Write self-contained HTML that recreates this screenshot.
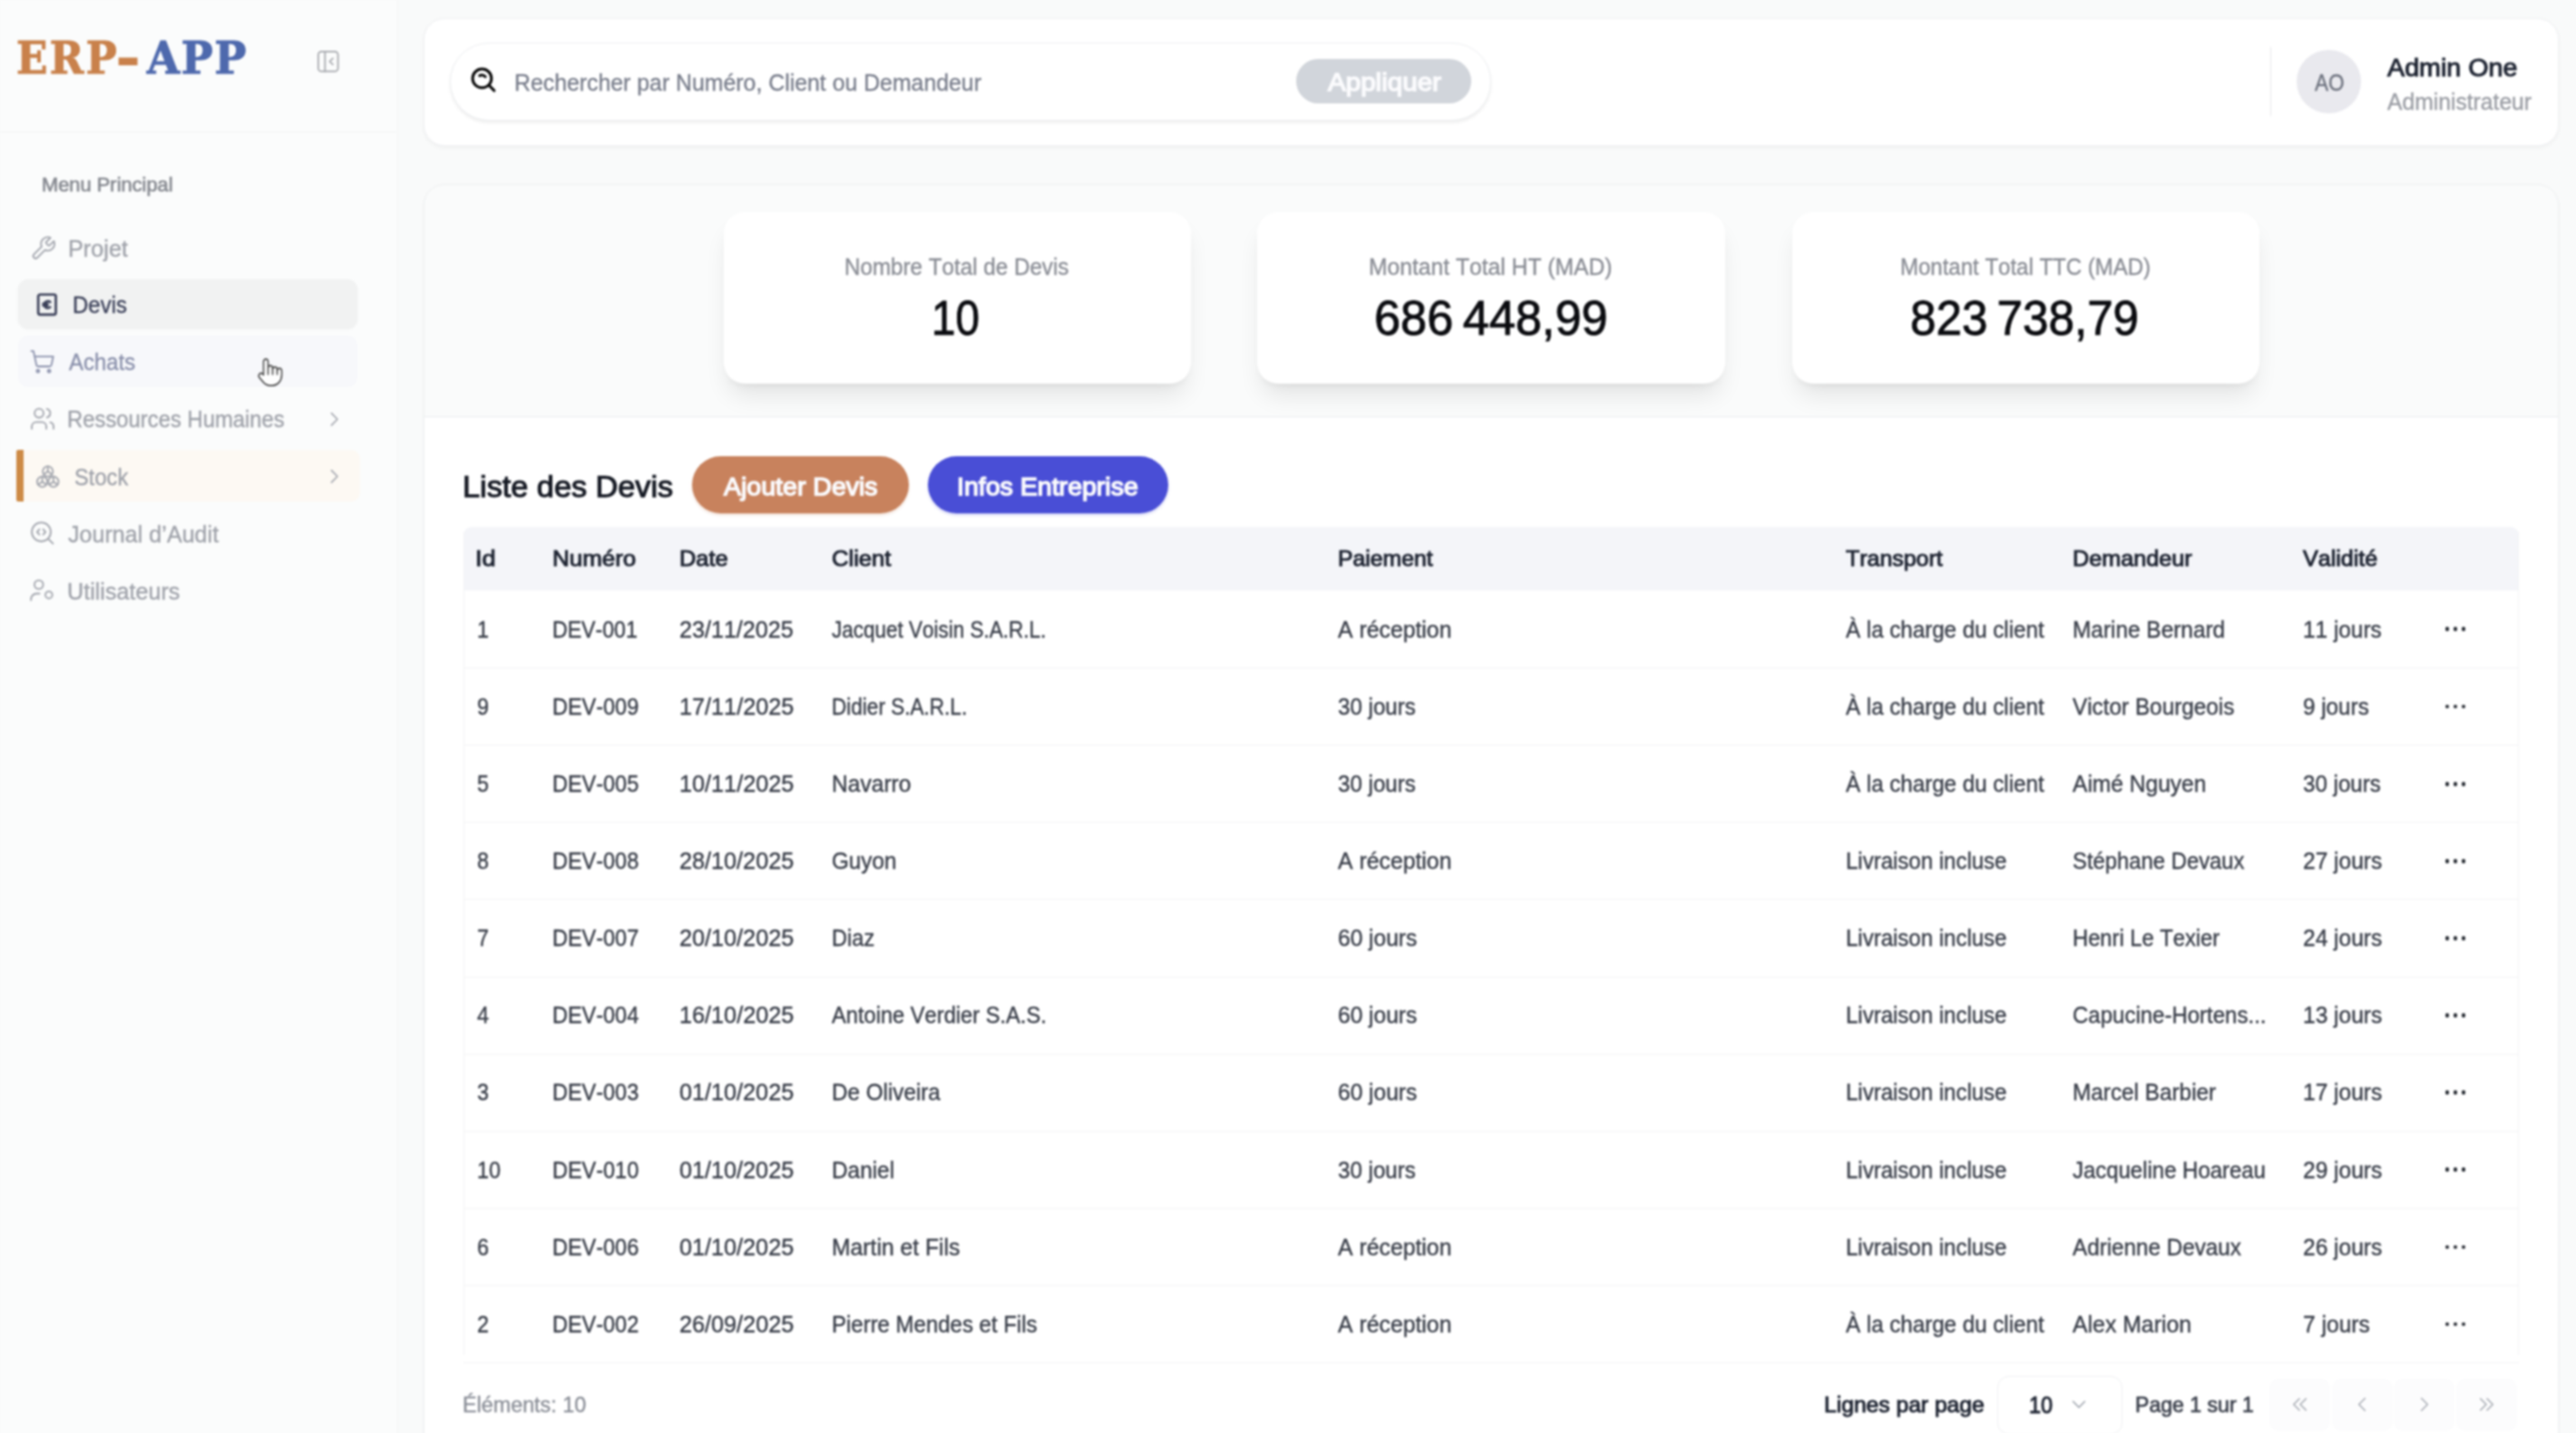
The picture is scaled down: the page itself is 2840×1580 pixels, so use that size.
<!DOCTYPE html>
<html lang="fr">
<head>
<meta charset="utf-8">
<title>ERP-APP – Devis</title>
<meta name="viewport" content="width=2840">
<style>
*{box-sizing:border-box;margin:0;padding:0}
html,body{width:2840px;height:1580px;overflow:hidden}
body{position:relative;background:#f9fafa;font-family:"Liberation Sans",Arial,sans-serif;color:#374151;font-kerning:none;-webkit-font-smoothing:antialiased}
.t{position:absolute;display:block;white-space:pre;line-height:1;font-weight:400;-webkit-text-stroke:.35px;transform-origin:0 0}
.sb{-webkit-text-stroke:1px}
.ic{position:absolute;display:block;overflow:visible}
button{font:inherit;border:0;background:none;color:inherit;display:block}
div,header,main,section,aside,button,nav,a,h2{position:absolute}
nav,.brand,.nav-item{left:0;top:0;width:0;height:0}

.app{left:0;top:0;width:2840px;height:1720px;background:#f9fafa;filter:blur(.8px)}

/* sidebar */
.sidebar{left:0;top:0;width:438.8px;height:1720px;background:#fbfcfc;border-right:1.6px solid #f3f5f5}
.brand::after{content:"";position:absolute;left:0;top:144.6px;width:437px;height:1.6px;background:#f2f4f4}
.logo{font-family:"DejaVu Serif Condensed","DejaVu Serif","Liberation Serif",serif;font-weight:700;-webkit-text-stroke:1px;white-space:pre;line-height:1}
.logo span{display:inline-block;position:relative;transform-origin:0 0}
.logo .dash{-webkit-text-stroke:2.2px}
.l1{color:#c9814b}
.l2{color:#4e69ad}
.menu-title{color:#878a91;-webkit-text-stroke:.7px}
.nav-label{color:#9fa2aa;-webkit-text-stroke:.35px}
.nav-bg{border-radius:11px}
.active .nav-bg{background:#f1f2f2;box-shadow:0 1px 2.5px rgba(0,0,0,.05)}
.active .nav-label{color:#3b4059}
.hover .nav-bg{background:#f7f8fb}
.hover .nav-label{color:#8a90ab}
.accent .nav-bg{background:#fdf9f3;border-left:8px solid #cd8a45;border-radius:2px 10px 10px 2px}

/* top bar */
.topbar{background:#fff;border:1.4px solid #f0f1f3;border-radius:23px;box-shadow:0 2px 5px rgba(0,0,0,.045)}
.topbar>*{margin:-1.4px 0 0 -1.4px}
.search{background:#fff;border:1.4px solid #eef0f2;border-radius:43px;box-shadow:0 2.5px 3.5px rgba(0,0,0,.065)}
.search>*{margin:-1.4px 0 0 -1.4px}
.ph{color:#787d8b;-webkit-text-stroke:.35px}
.apply{background:#d1d5db;border-radius:26px}
.bt{color:#fbfbfd;-webkit-text-stroke:1.5px}
.vsep{background:#e6e8eb}
.avatar{background:#e9e9ee;border-radius:50%}
.av-t{color:#6e737f}
.u-name{color:#1f2533}
.u-role{color:#9a9da4}

/* main card */
.maincard{background:#fff;border-radius:23px;box-shadow:0 2px 5px rgba(0,0,0,.03)}
.maincard::after{content:"";position:absolute;inset:0;border:1.8px solid #eef0f1;border-radius:23px;pointer-events:none}
.stats{background:#fafbfb;border-bottom:1.8px solid #e9ebee;border-radius:23px 23px 0 0}
.stat{background:#fff;border-radius:23px;box-shadow:0 18px 27px -5px rgba(0,0,0,.09),0 7px 11px -7px rgba(0,0,0,.09)}
.st-l{color:#8a8d95}
.st-v{color:#0b0c10;-webkit-text-stroke:.9px}
.h{color:#161a24;font-weight:400;-webkit-text-stroke:1.1px}
.btn{border-radius:33px}
.b-add{background:#c8825d;box-shadow:0 2px 3px rgba(200,130,93,.25)}
.b-info{background:#494ed6;box-shadow:0 2px 3px rgba(73,78,214,.25)}

.tablewrap{border-radius:9px 9px 0 0;overflow:hidden}
.tablewrap::after{content:"";position:absolute;inset:0 0 10px 0;border:1.4px solid #f2f3f5;border-top:0;border-bottom:0;pointer-events:none}
table.grid{border-collapse:collapse;table-layout:fixed;width:100%;position:absolute;left:0;top:0}
.grid th,.grid td{text-align:left;white-space:nowrap;overflow:hidden;vertical-align:middle;line-height:30px;padding:0}
.grid th{height:70.9px;background:#f4f5f9;color:#1f2533;font-size:24.6px;font-weight:400;-webkit-text-stroke:1px;padding-bottom:2.2px}
.grid td{height:85.12px;color:#393e49;font-size:25.8px;border-bottom:1.6px solid #f2f3f5;-webkit-text-stroke:.4px;padding-bottom:2.6px}
.c{display:inline-block;transform-origin:0 50%;vertical-align:middle}
.dots{display:block;position:relative;left:14.6px;top:2px;width:24px;height:6px}
.dots i{position:absolute;top:0;width:4.6px;height:4.6px;border-radius:50%;background:#23272f}
.dots i:nth-child(1){left:0}
.dots i:nth-child(2){left:9px}
.dots i:nth-child(3){left:18px}

.f-count{color:#8a8e97}
.f-lab{color:#1f2533}
.f-sel{color:#1f2533}
.f-page{color:#3a3f4b;-webkit-text-stroke:.7px}
.select{background:#fff;border:1.6px solid #eff0f2;border-radius:13px}
.select>*{margin:-1.4px 0 0 -1.4px}
.pg{background:#fcfcfd;border-radius:11px}
.cursor{position:absolute;display:block;overflow:visible}

</style>
</head>
<body>
<div class="app">
<aside class="sidebar"><div class="brand">
<div class="logo" style="left:0;top:40.38px;font-size:49px"><span class="l1" style="left:18.39px;letter-spacing:2.4px;transform:scaleX(1.0242)">ERP</span><span class="l1 dash" style="left:18.87px;top:-0.6px;transform:scaleX(1.3266)">-</span> <span class="l2" style="left:18.04px;letter-spacing:1.6px;transform:scaleX(1.0541)">APP</span></div>
<svg class="ic " style="left:347.95px;top:54.45px" viewBox="0 0 24 24" width="27.5" height="27.5" fill="none" stroke="#a4a6ab" stroke-width="1.5" stroke-linecap="round" stroke-linejoin="round"><rect x="2.5" y="2.5" width="19" height="19" rx="3"/><path d="M9 2.5v19"/><path d="m16.5 9-3 3 3 3"/></svg>
</div>
<div class="t menu-title" style="left:46.41px;top:192.67px;font-size:22.6px;transform:scaleX(0.9677)">Menu Principal</div>
<nav>
<a class="nav-item "><svg class="ic " style="left:32.65px;top:258.65px" viewBox="0 0 24 24" width="29.5" height="29.5" fill="none" stroke="#a2a5ad" stroke-width="1.5" stroke-linecap="round" stroke-linejoin="round"><path d="M14.7 6.3a1 1 0 0 0 0 1.4l1.6 1.6a1 1 0 0 0 1.4 0l3.77-3.77a6 6 0 0 1-7.94 7.94l-6.91 6.91a2.12 2.12 0 0 1-3-3l6.91-6.91a6 6 0 0 1 7.94-7.94l-3.76 3.76z"/></svg><span class="t nav-label" style="left:74.53px;top:260.88px;font-size:26.6px;transform:scaleX(0.9507)">Projet</span></a>
<a class="nav-item active"><div class="nav-bg" style="left:19.6px;top:308.2px;width:374.4px;height:54px"></div><svg class="ic " style="left:37.53px;top:322.13px" viewBox="0 0 24 24" width="27.73" height="27.73" fill="none" stroke="#3b4059" stroke-width="2.3" stroke-linecap="round" stroke-linejoin="round"><rect x="3.6" y="2.4" width="16.8" height="19.2" rx="1.8"/><path d="M15 9.6a3.3 3.3 0 1 0 0 4.8"/><path d="M8.4 11.1h4"/><path d="M8.4 12.9h4"/></svg><span class="t nav-label sb" style="left:79.83px;top:323.48px;font-size:26.6px;transform:scaleX(0.9026)">Devis</span></a>
<a class="nav-item hover"><div class="nav-bg" style="left:19.6px;top:370.4px;width:374.4px;height:56.4px"></div><svg class="ic " style="left:32.05px;top:384.05px" viewBox="0 0 24 24" width="29.5" height="29.5" fill="none" stroke="#8a90ab" stroke-width="1.5" stroke-linecap="round" stroke-linejoin="round"><circle cx="8" cy="20.5" r="1.2"/><circle cx="18" cy="20.5" r="1.2"/><path d="M2 2.5h2l2.6 12.2a2 2 0 0 0 2 1.6h9.6a2 2 0 0 0 1.95-1.57L21.7 7.4H5.1"/></svg><span class="t nav-label" style="left:75.65px;top:386.28px;font-size:26.6px;transform:scaleX(0.9015)">Achats</span></a>
<a class="nav-item "><svg class="ic " style="left:32.05px;top:447.15px" viewBox="0 0 24 24" width="29.5" height="29.5" fill="none" stroke="#a2a5ad" stroke-width="1.5" stroke-linecap="round" stroke-linejoin="round"><path d="M15.5 21v-2a4 4 0 0 0-4-4h-5a4 4 0 0 0-4 4v2"/><circle cx="9" cy="7" r="4"/><path d="M22 21v-2a4 4 0 0 0-3-3.87"/><path d="M16 3.13a4 4 0 0 1 0 7.75"/></svg><span class="t nav-label" style="left:74.04px;top:449.38px;font-size:26.6px;transform:scaleX(0.8962)">Ressources Humaines</span><svg class="ic " style="left:356.55px;top:450.85px" viewBox="0 0 24 24" width="22.5" height="22.5" fill="none" stroke="#a2a5ad" stroke-width="1.7" stroke-linecap="round" stroke-linejoin="round"><path d="m9 5 7 7-7 7"/></svg></a>
<a class="nav-item accent"><div class="nav-bg" style="left:18.2px;top:496.2px;width:379.2px;height:56.4px"></div><svg class="ic " style="left:38.45px;top:510.55px" viewBox="0 0 24 24" width="29.5" height="29.5" fill="none" stroke="#a2a5ad" stroke-width="1.5" stroke-linecap="round" stroke-linejoin="round"><circle cx="12" cy="7.2" r="4.6"/><circle cx="7" cy="16.4" r="4.6"/><circle cx="17" cy="16.4" r="4.6"/><path d="M12 2.6v4.6l-3.6 2.6"/><path d="M12 7.2l3.6 2.6"/><path d="M7 11.8v4.6l-3.6 2.4"/><path d="M7 16.4l3.6 2.4"/><path d="M17 11.8v4.6l-3.6 2.4"/><path d="M17 16.4l3.6 2.4"/></svg><span class="t nav-label" style="left:81.52px;top:512.78px;font-size:26.6px;transform:scaleX(0.8905)">Stock</span><svg class="ic " style="left:356.55px;top:514.25px" viewBox="0 0 24 24" width="22.5" height="22.5" fill="none" stroke="#a2a5ad" stroke-width="1.7" stroke-linecap="round" stroke-linejoin="round"><path d="m9 5 7 7-7 7"/></svg></a>
<a class="nav-item "><svg class="ic " style="left:31.65px;top:573.35px" viewBox="0 0 24 24" width="29.5" height="29.5" fill="none" stroke="#a2a5ad" stroke-width="1.5" stroke-linecap="round" stroke-linejoin="round"><circle cx="11" cy="11" r="8.5"/><path d="m21.5 21.5-4.3-4.3"/><path d="M9.3 8.6 7.2 11l2.1 2.4"/><path d="m12.7 8.6 2.1 2.4-2.1 2.4"/></svg><span class="t nav-label" style="left:75.31px;top:575.58px;font-size:26.6px;transform:scaleX(0.9444)">Journal d’Audit</span></a>
<a class="nav-item "><svg class="ic " style="left:31.45px;top:636.75px" viewBox="0 0 24 24" width="29.5" height="29.5" fill="none" stroke="#a2a5ad" stroke-width="1.5" stroke-linecap="round" stroke-linejoin="round"><circle cx="9.6" cy="6.2" r="3.9"/><path d="M2.6 20.2v-1a5 5 0 0 1 5-5h2.6"/><circle cx="18.6" cy="15.4" r="3.1"/></svg><span class="t nav-label" style="left:74.46px;top:638.98px;font-size:26.6px;transform:scaleX(0.9459)">Utilisateurs</span></a>
</nav></aside>
<header class="topbar" style="left:466.6px;top:20px;width:2354.4px;height:141.2px"><div class="search" style="left:29.9px;top:27.4px;width:1147.5px;height:85.8px"><svg class="ic " style="left:21.15px;top:25.85px" viewBox="0 0 24 24" width="31.5" height="31.5" fill="none" stroke="#060606" stroke-width="2.3" stroke-linecap="round" stroke-linejoin="round"><circle cx="11" cy="11" r="7.9"/><path d="m16.8 16.8 4.4 4.4"/><path d="M9 8.7q2.3-1.3 4.8.9"/></svg><span class="t ph" style="left:71.06px;top:31.48px;font-size:26.6px;transform:scaleX(0.9340)">Rechercher par Numéro, Client ou Demandeur</span><button class="apply" style="left:933.7px;top:18.6px;width:192.4px;height:49px"><span class="t bt sb" style="left:34.54px;top:11.9px;font-size:28px;transform:scaleX(1.0562)">Appliquer</span></button></div>
<div class="vsep" style="left:2036.4px;top:32px;width:1.3px;height:76.2px"></div>
<div class="avatar" style="left:2066px;top:35px;width:70.8px;height:70.6px"><span class="t av-t" style="left:19.66px;top:23.94px;font-size:25px;transform:scaleX(0.9000)">AO</span></div>
<div class="t u-name sb" style="left:2165.64px;top:42.51px;font-size:26.8px;transform:scaleX(1.0706)">Admin One</div>
<div class="t u-role" style="left:2165.65px;top:80.64px;font-size:25px;transform:scaleX(0.9869)">Administrateur</div></header>
<main class="maincard" style="left:466.6px;top:203.4px;width:2354.4px;height:1496.6px"><section class="stats" style="left:0px;top:0px;width:2354.4px;height:257px"><div class="stat" style="left:331.4px;top:30.4px;width:515.4px;height:189.4px"><div class="t st-l" style="left:133.41px;top:47.76px;font-size:25.8px;transform:scaleX(0.9379)">Nombre Total de Devis</div><div class="t st-v" style="left:229.19px;top:91.5px;font-size:52.8px;transform:scaleX(0.9000)">10</div></div>
<div class="stat" style="left:919.4px;top:30.4px;width:516px;height:189.4px"><div class="t st-l" style="left:123.48px;top:47.76px;font-size:25.8px;transform:scaleX(0.9557)">Montant Total HT (MAD)</div><div class="t st-v" style="left:128.95px;top:91.5px;font-size:52.8px;transform:scaleX(0.9899)">686 448,99</div></div>
<div class="stat" style="left:1509px;top:30.4px;width:515.4px;height:189.4px"><div class="t st-l" style="left:119.43px;top:47.76px;font-size:25.8px;transform:scaleX(0.9303)">Montant Total TTC (MAD)</div><div class="t st-v" style="left:130.78px;top:91.5px;font-size:52.8px;transform:scaleX(0.9688)">823 738,79</div></div></section>
<h2 class="t h sb" style="left:42.99px;top:316.49px;font-size:33.8px;transform:scaleX(1.0133)">Liste des Devis</h2>
<button class="btn b-add" style="left:296.4px;top:299.6px;width:239px;height:63.2px"><span class="t bt sb" style="left:35.34px;top:18.76px;font-size:28.4px;transform:scaleX(1.0047)">Ajouter Devis</span></button>
<button class="btn b-info" style="left:556.2px;top:299.6px;width:265.2px;height:63.2px"><span class="t bt sb" style="left:32.57px;top:18.76px;font-size:28.4px;transform:scaleX(1.0051)">Infos Entreprise</span></button>
<div class="tablewrap" style="left:44.9px;top:377.2px;width:2265.5px;height:923.7px"><table class="grid">
<colgroup>
<col style="width:84.9px">
<col style="width:139.6px">
<col style="width:167.4px">
<col style="width:558.8px">
<col style="width:559px">
<col style="width:251.4px">
<col style="width:252px">
<col style="width:156.6px">
<col style="width:95.8px">
</colgroup>
<thead><tr><th style="padding-left:12.65px"><span class="c" style="transform:scaleX(1.1000)">Id</span></th><th style="padding-left:12.57px"><span class="c" style="transform:scaleX(1.0539)">Numéro</span></th><th style="padding-left:12.57px"><span class="c" style="transform:scaleX(1.0317)">Date</span></th><th style="padding-left:13.27px"><span class="c" style="transform:scaleX(1.0412)">Client</span></th><th style="padding-left:12.57px"><span class="c" style="transform:scaleX(1.0066)">Paiement</span></th><th style="padding-left:13.9px"><span class="c" style="transform:scaleX(1.0140)">Transport</span></th><th style="padding-left:12.57px"><span class="c" style="transform:scaleX(1.0245)">Demandeur</span></th><th style="padding-left:14.3px"><span class="c" style="transform:scaleX(1.0191)">Validité</span></th><th></th></tr></thead>
<tbody>
<tr><td style="padding-left:14.25px"><span class="c" style="transform:scaleX(0.9050)">1</span></td><td style="padding-left:12.57px"><span class="c" style="transform:scaleX(0.8962)">DEV-001</span></td><td style="padding-left:12.57px"><span class="c" style="transform:scaleX(0.9736)">23/11/2025</span></td><td style="padding-left:13.27px"><span class="c" style="transform:scaleX(0.8722)">Jacquet Voisin S.A.R.L.</span></td><td style="padding-left:12.57px"><span class="c" style="transform:scaleX(0.9613)">A réception</span></td><td style="padding-left:13.9px"><span class="c" style="transform:scaleX(0.9352)">À la charge du client</span></td><td style="padding-left:12.57px"><span class="c" style="transform:scaleX(0.9458)">Marine Bernard</span></td><td style="padding-left:14.3px"><span class="c" style="transform:scaleX(0.9450)">11 jours</span></td><td class="act"><span class="dots"><i></i><i></i><i></i></span></td></tr>
<tr><td style="padding-left:14.25px"><span class="c" style="transform:scaleX(0.9050)">9</span></td><td style="padding-left:12.57px"><span class="c" style="transform:scaleX(0.9093)">DEV-009</span></td><td style="padding-left:12.57px"><span class="c" style="transform:scaleX(0.9780)">17/11/2025</span></td><td style="padding-left:13.27px"><span class="c" style="transform:scaleX(0.8743)">Didier S.A.R.L.</span></td><td style="padding-left:12.57px"><span class="c" style="transform:scaleX(0.9347)">30 jours</span></td><td style="padding-left:13.9px"><span class="c" style="transform:scaleX(0.9352)">À la charge du client</span></td><td style="padding-left:12.57px"><span class="c" style="transform:scaleX(0.9424)">Victor Bourgeois</span></td><td style="padding-left:14.3px"><span class="c" style="transform:scaleX(0.9403)">9 jours</span></td><td class="act"><span class="dots"><i></i><i></i><i></i></span></td></tr>
<tr><td style="padding-left:14.25px"><span class="c" style="transform:scaleX(0.9050)">5</span></td><td style="padding-left:12.57px"><span class="c" style="transform:scaleX(0.9092)">DEV-005</span></td><td style="padding-left:12.57px"><span class="c" style="transform:scaleX(0.9780)">10/11/2025</span></td><td style="padding-left:13.27px"><span class="c" style="transform:scaleX(0.9531)">Navarro</span></td><td style="padding-left:12.57px"><span class="c" style="transform:scaleX(0.9347)">30 jours</span></td><td style="padding-left:13.9px"><span class="c" style="transform:scaleX(0.9352)">À la charge du client</span></td><td style="padding-left:12.57px"><span class="c" style="transform:scaleX(0.9520)">Aimé Nguyen</span></td><td style="padding-left:14.3px"><span class="c" style="transform:scaleX(0.9347)">30 jours</span></td><td class="act"><span class="dots"><i></i><i></i><i></i></span></td></tr>
<tr><td style="padding-left:14.25px"><span class="c" style="transform:scaleX(0.9050)">8</span></td><td style="padding-left:12.57px"><span class="c" style="transform:scaleX(0.9092)">DEV-008</span></td><td style="padding-left:12.57px"><span class="c" style="transform:scaleX(0.9776)">28/10/2025</span></td><td style="padding-left:13.27px"><span class="c" style="transform:scaleX(0.9405)">Guyon</span></td><td style="padding-left:12.57px"><span class="c" style="transform:scaleX(0.9613)">A réception</span></td><td style="padding-left:13.9px"><span class="c" style="transform:scaleX(0.9305)">Livraison incluse</span></td><td style="padding-left:12.57px"><span class="c" style="transform:scaleX(0.9239)">Stéphane Devaux</span></td><td style="padding-left:14.3px"><span class="c" style="transform:scaleX(0.9500)">27 jours</span></td><td class="act"><span class="dots"><i></i><i></i><i></i></span></td></tr>
<tr><td style="padding-left:14.25px"><span class="c" style="transform:scaleX(0.9050)">7</span></td><td style="padding-left:12.57px"><span class="c" style="transform:scaleX(0.9093)">DEV-007</span></td><td style="padding-left:12.57px"><span class="c" style="transform:scaleX(0.9776)">20/10/2025</span></td><td style="padding-left:13.27px"><span class="c" style="transform:scaleX(0.9145)">Diaz</span></td><td style="padding-left:12.57px"><span class="c" style="transform:scaleX(0.9500)">60 jours</span></td><td style="padding-left:13.9px"><span class="c" style="transform:scaleX(0.9305)">Livraison incluse</span></td><td style="padding-left:12.57px"><span class="c" style="transform:scaleX(0.9195)">Henri Le Texier</span></td><td style="padding-left:14.3px"><span class="c" style="transform:scaleX(0.9500)">24 jours</span></td><td class="act"><span class="dots"><i></i><i></i><i></i></span></td></tr>
<tr><td style="padding-left:14.25px"><span class="c" style="transform:scaleX(0.9050)">4</span></td><td style="padding-left:12.57px"><span class="c" style="transform:scaleX(0.9092)">DEV-004</span></td><td style="padding-left:12.57px"><span class="c" style="transform:scaleX(0.9780)">16/10/2025</span></td><td style="padding-left:13.27px"><span class="c" style="transform:scaleX(0.9172)">Antoine Verdier S.A.S.</span></td><td style="padding-left:12.57px"><span class="c" style="transform:scaleX(0.9500)">60 jours</span></td><td style="padding-left:13.9px"><span class="c" style="transform:scaleX(0.9305)">Livraison incluse</span></td><td style="padding-left:12.57px"><span class="c" style="transform:scaleX(0.9305)">Capucine-Hortens...</span></td><td style="padding-left:14.3px"><span class="c" style="transform:scaleX(0.9503)">13 jours</span></td><td class="act"><span class="dots"><i></i><i></i><i></i></span></td></tr>
<tr><td style="padding-left:14.25px"><span class="c" style="transform:scaleX(0.9050)">3</span></td><td style="padding-left:12.57px"><span class="c" style="transform:scaleX(0.9092)">DEV-003</span></td><td style="padding-left:12.57px"><span class="c" style="transform:scaleX(0.9774)">01/10/2025</span></td><td style="padding-left:13.27px"><span class="c" style="transform:scaleX(0.9390)">De Oliveira</span></td><td style="padding-left:12.57px"><span class="c" style="transform:scaleX(0.9500)">60 jours</span></td><td style="padding-left:13.9px"><span class="c" style="transform:scaleX(0.9305)">Livraison incluse</span></td><td style="padding-left:12.57px"><span class="c" style="transform:scaleX(0.9430)">Marcel Barbier</span></td><td style="padding-left:14.3px"><span class="c" style="transform:scaleX(0.9503)">17 jours</span></td><td class="act"><span class="dots"><i></i><i></i><i></i></span></td></tr>
<tr><td style="padding-left:14.25px"><span class="c" style="transform:scaleX(0.9050)">10</span></td><td style="padding-left:12.57px"><span class="c" style="transform:scaleX(0.9092)">DEV-010</span></td><td style="padding-left:12.57px"><span class="c" style="transform:scaleX(0.9774)">01/10/2025</span></td><td style="padding-left:13.27px"><span class="c" style="transform:scaleX(0.9443)">Daniel</span></td><td style="padding-left:12.57px"><span class="c" style="transform:scaleX(0.9347)">30 jours</span></td><td style="padding-left:13.9px"><span class="c" style="transform:scaleX(0.9305)">Livraison incluse</span></td><td style="padding-left:12.57px"><span class="c" style="transform:scaleX(0.9279)">Jacqueline Hoareau</span></td><td style="padding-left:14.3px"><span class="c" style="transform:scaleX(0.9500)">29 jours</span></td><td class="act"><span class="dots"><i></i><i></i><i></i></span></td></tr>
<tr><td style="padding-left:14.25px"><span class="c" style="transform:scaleX(0.9050)">6</span></td><td style="padding-left:12.57px"><span class="c" style="transform:scaleX(0.9092)">DEV-006</span></td><td style="padding-left:12.57px"><span class="c" style="transform:scaleX(0.9774)">01/10/2025</span></td><td style="padding-left:13.27px"><span class="c" style="transform:scaleX(0.9580)">Martin et Fils</span></td><td style="padding-left:12.57px"><span class="c" style="transform:scaleX(0.9613)">A réception</span></td><td style="padding-left:13.9px"><span class="c" style="transform:scaleX(0.9305)">Livraison incluse</span></td><td style="padding-left:12.57px"><span class="c" style="transform:scaleX(0.9395)">Adrienne Devaux</span></td><td style="padding-left:14.3px"><span class="c" style="transform:scaleX(0.9500)">26 jours</span></td><td class="act"><span class="dots"><i></i><i></i><i></i></span></td></tr>
<tr><td style="padding-left:14.25px"><span class="c" style="transform:scaleX(0.9050)">2</span></td><td style="padding-left:12.57px"><span class="c" style="transform:scaleX(0.9093)">DEV-002</span></td><td style="padding-left:12.57px"><span class="c" style="transform:scaleX(0.9776)">26/09/2025</span></td><td style="padding-left:13.27px"><span class="c" style="transform:scaleX(0.9293)">Pierre Mendes et Fils</span></td><td style="padding-left:12.57px"><span class="c" style="transform:scaleX(0.9613)">A réception</span></td><td style="padding-left:13.9px"><span class="c" style="transform:scaleX(0.9352)">À la charge du client</span></td><td style="padding-left:12.57px"><span class="c" style="transform:scaleX(0.9623)">Alex Marion</span></td><td style="padding-left:14.3px"><span class="c" style="transform:scaleX(0.9538)">7 jours</span></td><td class="act"><span class="dots"><i></i><i></i><i></i></span></td></tr>
</tbody></table></div>
<div class="t f-count" style="left:43.49px;top:1333.41px;font-size:24.8px;transform:scaleX(0.9411)">Éléments: 10</div>
<div class="t f-lab sb" style="left:1544.78px;top:1333.41px;font-size:24.8px;transform:scaleX(0.9935)">Lignes par page</div>
<div class="select" style="left:1735px;top:1313.6px;width:138.2px;height:65px"><span class="t f-sel sb" style="left:36.25px;top:19.19px;font-size:26px;transform:scaleX(0.9000)">10</span><svg class="ic " style="left:80px;top:20.2px" viewBox="0 0 24 24" width="22" height="22" fill="none" stroke="#9aa0aa" stroke-width="1.6" stroke-linecap="round" stroke-linejoin="round"><path d="m5 9 7 7 7-7"/></svg></div>
<div class="t f-page" style="left:1886.91px;top:1333.41px;font-size:24.8px;transform:scaleX(0.9303)">Page 1 sur 1</div>
<button class="pg" style="left:2035.6px;top:1316.2px;width:66.8px;height:58px"><svg class="ic " style="left:20.9px;top:16.3px" viewBox="0 0 24 24" width="25" height="25" fill="none" stroke="#a9adb5" stroke-width="1.6" stroke-linecap="round" stroke-linejoin="round"><path d="m11.5 6-6 6 6 6"/><path d="m18.5 6-6 6 6 6"/></svg></button>
<button class="pg" style="left:2104.4px;top:1316.2px;width:66.8px;height:58px"><svg class="ic " style="left:21.9px;top:17.3px" viewBox="0 0 24 24" width="23" height="23" fill="none" stroke="#a9adb5" stroke-width="1.6" stroke-linecap="round" stroke-linejoin="round"><path d="m15 5-7 7 7 7"/></svg></button>
<button class="pg" style="left:2172.2px;top:1316.2px;width:66.8px;height:58px"><svg class="ic " style="left:21.9px;top:17.3px" viewBox="0 0 24 24" width="23" height="23" fill="none" stroke="#a9adb5" stroke-width="1.6" stroke-linecap="round" stroke-linejoin="round"><path d="m9 5 7 7-7 7"/></svg></button>
<button class="pg" style="left:2241.6px;top:1316.2px;width:66.8px;height:58px"><svg class="ic " style="left:20.9px;top:16.3px" viewBox="0 0 24 24" width="25" height="25" fill="none" stroke="#a9adb5" stroke-width="1.6" stroke-linecap="round" stroke-linejoin="round"><path d="m5.5 6 6 6-6 6"/><path d="m12.5 6 6 6-6 6"/></svg></button></main>
<svg class="cursor" style="left:282.6px;top:393.0px" viewBox="0 0 24 24" width="30.1" height="35" preserveAspectRatio="none" fill="none" stroke="#4a4a4a" stroke-width="1.25" stroke-linecap="round" stroke-linejoin="round"><path d="M6 14V4a2 2 0 0 1 4 0v5a2 2 0 0 1 4 0v1a2 2 0 0 1 4 0v1a2 2 0 0 1 4 0v3a8 8 0 0 1-8 8h-2c-2.8 0-4.5-.86-5.99-2.34l-3.6-3.6a2 2 0 0 1 2.83-2.82z" fill="#fff"/><path d="M10 9.5V13.5M14 10v3.5M18 11v2.5"/></svg>
</div>
</body>
</html>
